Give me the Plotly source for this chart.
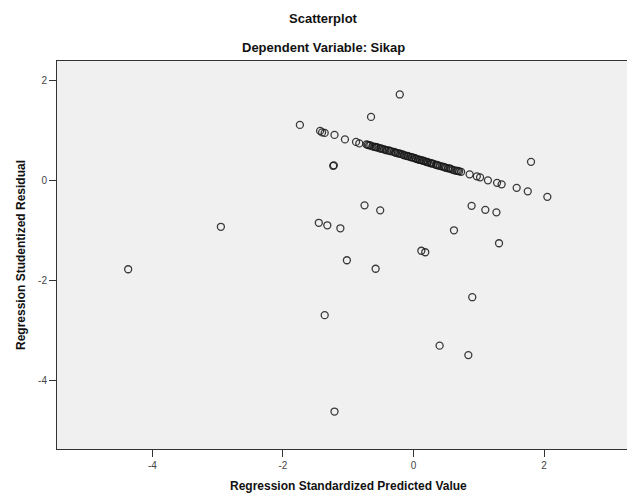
import plotly.graph_objects as go

# Regression Standardized Predicted Value (x) and Studentized Residual (y)
sparse_x = [-4.37, -2.95, -1.45, -1.32, -1.12, -1.02, -1.36, -1.21,
            -0.75, -0.51, -0.58, 0.12, 0.18, 0.62, 0.89, 1.10, 1.27, 1.31,
            0.90, 0.40, 0.84,
            -1.74, -1.43, -1.40, -1.36, -1.21, -1.05, -0.88, -0.83,
            -0.65, -0.21, -1.23, -1.22, 1.80,
            0.86, 0.97, 1.02, 1.14, 1.28, 1.35, 1.58, 1.75, 2.05]
sparse_y = [-1.77, -0.92, -0.84, -0.89, -0.95, -1.59, -2.69, -4.62,
            -0.49, -0.59, -1.76, -1.40, -1.43, -0.99, -0.50, -0.58, -0.63, -1.25,
            -2.33, -3.30, -3.49,
            1.12, 1.00, 0.97, 0.96, 0.92, 0.83, 0.78, 0.75,
            1.28, 1.73, 0.30, 0.31, 0.38,
            0.13, 0.09, 0.07, 0.01, -0.04, -0.07, -0.14, -0.21, -0.32]

dense_x = [-0.72, -0.70, -0.68, -0.66, -0.63, -0.60, -0.58, -0.57, -0.55, -0.52, -0.50,
           -0.48, -0.45, -0.43, -0.41, -0.38, -0.36, -0.34, -0.30, -0.28, -0.27, -0.24,
           -0.22, -0.20, -0.17, -0.15, -0.14, -0.11, -0.09, -0.08, -0.05, -0.03, -0.02,
           0.01, 0.03, 0.04, 0.07, 0.09, 0.10, 0.13, 0.15, 0.16, 0.19, 0.21,
           0.22, 0.25, 0.27, 0.28, 0.31, 0.34, 0.36, 0.37, 0.40, 0.43, 0.46, 0.48, 0.50,
           0.53, 0.55, 0.57, 0.60, 0.63, 0.66, 0.68, 0.70, 0.73]
dense_y = [0.73, 0.72, 0.71, 0.71, 0.69, 0.68, 0.68, 0.67, 0.67, 0.65, 0.65,
           0.64, 0.63, 0.62, 0.61, 0.61, 0.60, 0.59, 0.58, 0.57, 0.56, 0.55,
           0.55, 0.54, 0.53, 0.52, 0.51, 0.50, 0.50, 0.49, 0.48, 0.47, 0.47,
           0.46, 0.45, 0.44, 0.43, 0.42, 0.42, 0.41, 0.40, 0.40, 0.38, 0.38,
           0.37, 0.36, 0.35, 0.35, 0.34, 0.32, 0.32, 0.31, 0.30, 0.29, 0.28, 0.27, 0.26,
           0.25, 0.25, 0.24, 0.22, 0.21, 0.20, 0.20, 0.19, 0.18]

x_ticks = [-4, -2, 0, 2]
y_ticks = [2, 0, -2, -4]

fig = go.Figure()
fig.add_trace(go.Scatter(
    x=sparse_x + dense_x, y=sparse_y + dense_y, mode="markers",
    marker=dict(symbol="circle-open", size=7, color="rgba(25,25,25,0.85)",
                line=dict(width=1.3)),
    showlegend=False, hoverinfo="x+y"))

font_main = "Arial, Liberation Sans, sans-serif"
L, T, W, H = 57, 61, 570, 388
fig.update_layout(
    width=627, height=497,
    margin=dict(l=L, r=0, t=T, b=497 - T - H, autoexpand=False),
    paper_bgcolor="white", plot_bgcolor="#f0f0f0",
    font=dict(family=font_main, color="#222"),
    xaxis=dict(range=[-5.46, 3.27], tickvals=x_ticks, ticktext=[str(v) for v in x_ticks],
               ticks="outside", ticklen=7, tickcolor="#333", tickwidth=1,
               showline=True, linecolor="#333", linewidth=1, mirror=True,
               showgrid=False, zeroline=False, automargin=False,
               tickfont=dict(size=10, color="#444")),
    yaxis=dict(range=[-5.37, 2.40], tickvals=y_ticks, ticktext=[str(v) for v in y_ticks],
               ticks="outside", ticklen=7, tickcolor="#333", tickwidth=1,
               showline=True, linecolor="#333", linewidth=1, mirror=False,
               showgrid=False, zeroline=False, automargin=False,
               tickfont=dict(size=10, color="#444")),
    annotations=[
        dict(text="<b>Scatterplot</b>", xref="paper", yref="paper",
             x=(323 - L) / W, y=1 + (T - 19) / H, xanchor="center", yanchor="middle",
             showarrow=False, font=dict(size=13, color="#111")),
        dict(text="<b>Dependent Variable: Sikap</b>", xref="paper", yref="paper",
             x=(323 - L) / W, y=1 + (T - 48) / H, xanchor="center", yanchor="middle",
             showarrow=False, font=dict(size=13, color="#111")),
        dict(text="<b>Regression Standardized Predicted Value</b>", xref="paper", yref="paper",
             x=(348 - L) / W, y=-(486 - T - H) / H, xanchor="center", yanchor="middle",
             showarrow=False, font=dict(size=12, color="#111")),
        dict(text="<b>Regression Studentized Residual</b>", xref="paper", yref="paper",
             x=-(L - 21) / W, y=0.5, xanchor="center", yanchor="middle", textangle=-90,
             showarrow=False, font=dict(size=12, color="#111")),
    ],
)

fig.write_html("out.html", config={"displayModeBar": False},
               post_script="document.body.style.margin='0';document.body.style.overflow='hidden';")
